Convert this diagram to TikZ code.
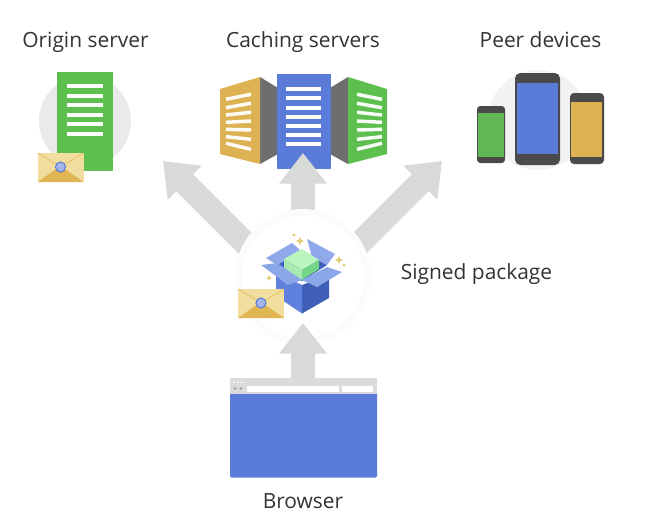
\documentclass[tikz,border=0pt]{standalone}
\usepackage{fontspec}
\setmainfont{Open Sans}
\usetikzlibrary{arrows.meta}
\definecolor{cgreen}{HTML}{5CBF4E}
\definecolor{cblue}{HTML}{5B7BD9}
\definecolor{cyellow}{HTML}{DDB253}
\definecolor{cgrey}{HTML}{6E6E6E}
\definecolor{cdark}{HTML}{4A4A4A}
\definecolor{carrow}{HTML}{D8DAD8}
\definecolor{ccirc}{HTML}{E9EAE9}
\definecolor{cenv}{HTML}{F1DE9E}
\definecolor{cflap}{HTML}{E1B552}
\definecolor{cink}{HTML}{333333}
\definecolor{cboxl}{HTML}{5F80DC}
\definecolor{cboxr}{HTML}{3F5FB8}
\definecolor{cflaps}{HTML}{8FA9EA}
\definecolor{cflapf}{HTML}{8CA6EA}
\definecolor{ccubet}{HTML}{BCF4BE}
\definecolor{ccubel}{HTML}{A6EAB0}
\definecolor{ccuber}{HTML}{74D488}
\definecolor{cspark}{HTML}{E3CB6F}
\tikzset{
  label text/.style={font=\fontsize{15.7pt}{18pt}\selectfont,text=cink,inner sep=0pt,anchor=base},
  bigarrow/.style={draw=carrow,line width=18pt,-{Triangle[length=23pt,width=34.5pt]}},
  rowline/.style={draw=white,line width=3pt},
}
% envelope: #1 = x of left edge, #2 = y of top edge
\newcommand{\myenvelope}[2]{%
  \begin{scope}[shift={(#1,#2)}]
    \fill[cenv] (0,0) rectangle (46,29);
    \fill[cflap] (0,29) -- (23,13) -- (46,29) -- cycle;
    \draw[cflap!70!cenv,line width=.6pt] (0,0) -- (23,14) -- (46,0);
    \fill[fill=cblue!55!white,draw=cblue,line width=.8pt] (23,14) circle (5);
  \end{scope}}
\newcommand{\myspark}[3]{%
  \fill[cspark] (#1-#3,#2) -- (#1-.3*#3,#2-.3*#3) -- (#1,#2-#3) -- (#1+.3*#3,#2-.3*#3) -- (#1+#3,#2) -- (#1+.3*#3,#2+.3*#3) -- (#1,#2+#3) -- (#1-.3*#3,#2+.3*#3) -- cycle;}
\begin{document}
\begin{tikzpicture}[x=.75pt,y=-.75pt]
\useasboundingbox (0,0) rectangle (645,529);
\fill[white] (0,0) rectangle (645,529);

% labels
\node[label text] (lorigin) at (85.5,47) {Origin server};
\node[label text] (lcache) at (303,47) {Caching servers};
\node[label text] (lpeer) at (540.5,47) {Peer devices};
\node[label text] (lsigned) at (476.5,279.5) {Signed package};
\node[label text] (lbrowser) at (303,508) {Browser};

% origin server
\fill[ccirc] (85,121) circle (46);
\fill[cgreen] (57,72) rectangle (113,171);
\foreach \y in {86,95.6,105,114.5,124,134} \draw[rowline] (67,\y) -- (103,\y);
\myenvelope{37.5}{153}

% caching servers
\fill[cgrey] (260,77) -- (278,88) -- (278,154) -- (260,164) -- cycle;
\fill[cgrey] (348,77) -- (330,88) -- (330,154) -- (348,164) -- cycle;
\fill[cyellow] (220,89) -- (260,77) -- (260,164) -- (220,154) -- cycle;
\fill[cgreen] (387,89) -- (348,77) -- (348,164) -- (387,154) -- cycle;
\fill[cblue] (277,74) rectangle (331,169);
\foreach \y in {89,98,107.5,117,126,135,144} \draw[rowline] (286,\y) -- (321,\y);
\foreach \a/\b in {99.3/94.3,107.7/103.3,115/112.3,122.3/121,129.3/130,136.7/139.3,143.3/149.3}{
  \draw[rowline,line width=2.6pt,draw=white!95!cyellow] (226,\a) -- (251,\b);
  \draw[rowline,line width=2.6pt,draw=white!95!cgreen] (382,\a) -- (357,\b);
}

% peer devices
\fill[black!5] (538,120) circle (50);
\fill[cdark,rounded corners=2.5pt] (477,106) rectangle (505,163);
\fill[cgreen!85!gray] (478,113) rectangle (504,157);
\fill[cdark,rounded corners=4pt] (515,73) rectangle (560,165);
\fill[cblue] (517,83) rectangle (558,154);
\fill[cdark,rounded corners=3pt] (570,93) rectangle (604,164);
\fill[cyellow] (571,102) rectangle (602,157);

% browser
\node[draw=none,fill=cblue,rounded corners=1pt,minimum width=110.25pt,minimum height=63.75pt,inner sep=0pt] (browser) at (303.5,435) {};
\fill[black!14] (230,378) rectangle (377,393.5);
\fill[white] (247,386) rectangle (339,391.5);
\fill[white] (342,386) rectangle (373,391.5);
\foreach \x in {234,237.5,242} \fill[white] (\x,382) circle (1);
\foreach \x in {235,241} \fill[black!40] (\x,388.5) circle (1.3);

% arrows to the three destinations
\coordinate (pkgc) at (303,277);
\coordinate (pkgL) at (270,268);
\coordinate (pkgR) at (336,267);
\coordinate (tipO) at (163,161);
\coordinate (tipC) at (303,153);
\coordinate (tipP) at (442,161);
\coordinate (tipB) at (303,323);
\coordinate (browsertop) at (303,379);
\draw[bigarrow] (pkgL) -- (tipO);
\draw[bigarrow] (pkgc) -- (tipC);
\draw[bigarrow] (pkgR) -- (tipP);

% signed package
\fill[black!.7] (pkgc) circle (68);
\fill[black!1.2] (pkgc) circle (66);
\fill[black!1.7] (pkgc) circle (64);
\node[circle,fill=white,minimum size=92pt,inner sep=0pt] (pkg) at (pkgc) {};
\draw[bigarrow] (browsertop) -- (tipB);

% open box
\fill[cboxr] (277,265) -- (302,250) -- (327,265) -- (302,281) -- cycle;
\fill[cflaps] (266,258) -- (292,243) -- (300,250) -- (277,265) -- cycle;
\fill[cflaps] (307,239) -- (335,254) -- (327,265) -- (312,257) -- cycle;
\fill[cboxl] (276,272) -- (302,285) -- (302,313.5) -- (276,296) -- cycle;
\fill[cboxr] (329,275) -- (302,285) -- (302,313.5) -- (329,298) -- cycle;
\fill[ccubet] (284,259) -- (302,249) -- (319,260) -- (302,270) -- cycle;
\fill[ccubel] (284,259) -- (302,270) -- (302,280) -- (284,269) -- cycle;
\fill[ccuber] (302,270) -- (319,260) -- (319,269) -- (302,280) -- cycle;
\fill[cflapf] (261,265) -- (277,263) -- (302,280) -- (288,285) -- cycle;
\fill[cflapf] (302,280) -- (327,267) -- (342,272) -- (317,287) -- cycle;
\myspark{300}{241}{4}
\myspark{294}{235}{2}
\myspark{339}{260}{4}
\myspark{344}{265}{2}
\myspark{269}{278}{3}
\myenvelope{238}{289}
\end{tikzpicture}
\end{document}
